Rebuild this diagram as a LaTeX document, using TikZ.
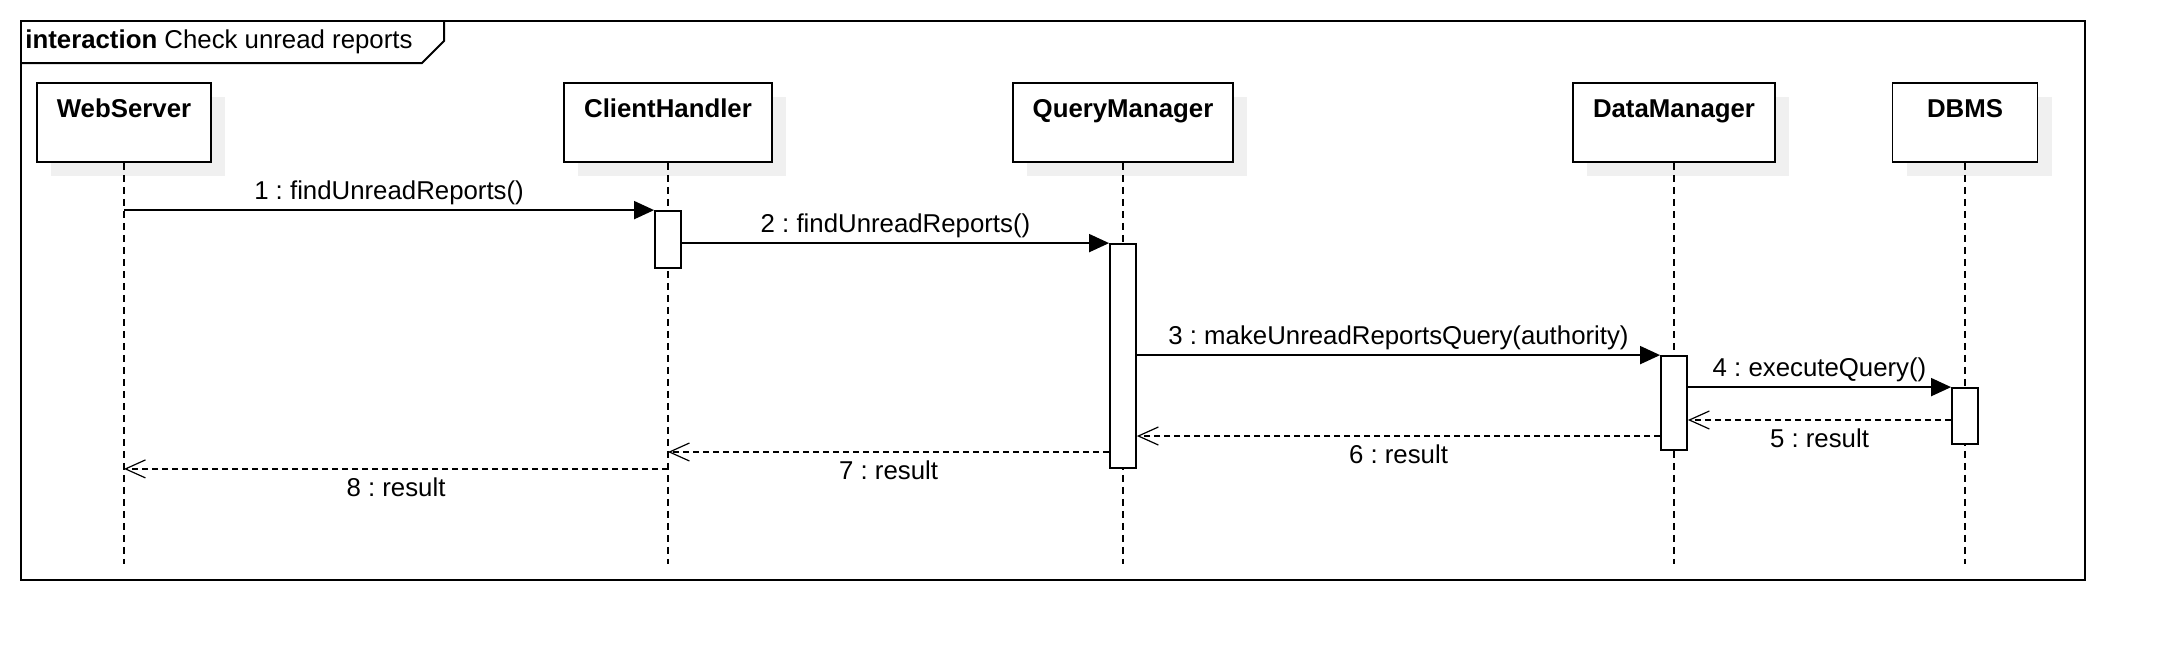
\documentclass[tikz,border=0pt]{standalone}
\usepackage{fontspec}
\setmainfont{Liberation Sans}
\usetikzlibrary{arrows.meta}
\frenchspacing
\begin{document}
\begin{tikzpicture}[x=0.5pt,y=-0.5pt,
 every node/.style={font=\fontsize{12.9pt}{15pt}\selectfont, inner sep=0pt},
 frameline/.style={line width=1pt},
 obj/.style={draw, line width=0.9pt, fill=white, minimum height=39.5pt,
   preaction={fill=black!6, transform canvas={shift={(7pt,-7pt)}}}},
 objlabel/.style={anchor=base, font=\bfseries\fontsize{12.9pt}{15pt}\selectfont},
 lifeline/.style={line width=0.7pt, dash pattern=on 3.5pt off 2.5pt},
 actbar/.style={draw, fill=white, line width=0.9pt, minimum width=13pt},
 msg/.style={line width=0.9pt, -{Triangle[length=10pt,width=9pt]}},
 ret/.style={line width=0.9pt, dash pattern=on 3pt off 2pt, -{Straight Barb[length=10pt,width=9pt,line width=0.6pt]}},
 lblabove/.style={midway, anchor=base, yshift=5.5pt},
 lblbelow/.style={midway, anchor=base, yshift=-13.75pt}]
\useasboundingbox (0,0) rectangle (2164,660);
\fill[white] (0,0) rectangle (2164,660);
% frame
\draw[frameline] (20.5,20.5) rectangle (2085,580);
\draw[frameline] (20.5,63) -- (422,63) -- (444,41) -- (444,20.5);
\node[anchor=base west] (title) at (25,48) {\textbf{interaction} Check unread reports};
% objects
\node[obj, minimum width=87pt] (ws) at (124,122.5) {};
\node[objlabel] (wsl) at ([yshift=-17.5pt]ws.north) {WebServer};
\node[obj, minimum width=104pt] (ch) at (668,122.5) {};
\node[objlabel] (chl) at ([yshift=-17.5pt]ch.north) {ClientHandler};
\node[obj, minimum width=110pt] (qm) at (1123,122.5) {};
\node[objlabel] (qml) at ([yshift=-17.5pt]qm.north) {QueryManager};
\node[obj, minimum width=101pt] (dm) at (1674,122.5) {};
\node[objlabel] (dml) at ([yshift=-17.5pt]dm.north) {DataManager};
\node[obj, minimum width=72.5pt] (db) at (1965,122.5) {};
\node[objlabel] (dbl) at ([yshift=-17.5pt]db.north) {DBMS};
% lifelines
\coordinate (bot) at (0,564);
\draw[lifeline] (ws.south) -- (ws.south |- bot);
\draw[lifeline] (ch.south) -- (ch.south |- bot);
\draw[lifeline] (qm.south) -- (qm.south |- bot);
\draw[lifeline] (dm.south) -- (dm.south |- bot);
\draw[lifeline] (db.south) -- (db.south |- bot);
% activation bars
\node[actbar, minimum height=28.5pt] (a1) at (668,239.5) {};
\node[actbar, minimum height=112pt] (a2) at (1123,356) {};
\node[actbar, minimum height=47pt] (a3) at (1674,403) {};
\node[actbar, minimum height=28pt] (a4) at (1965,416) {};
% messages
\draw[msg] (ws.south |- a1.north) -- node[lblabove] (l1) {1 : findUnreadReports()} (a1.north west);
\draw[msg] (a1.east |- a2.north) -- node[lblabove] (l2) {2 : findUnreadReports()} (a2.north west);
\draw[msg] (a2.east |- a3.north) -- node[lblabove] (l3) {3 : makeUnreadReportsQuery(authority)} (a3.north west);
\draw[msg] (a3.east |- a4.north) -- node[lblabove] (l4) {4 : executeQuery()} (a4.north west);
% returns
\coordinate (y5) at (0,420);
\coordinate (y6) at (0,436);
\coordinate (y7) at (0,452);
\draw[ret] (a4.west |- y5) -- node[lblbelow] (l5) {5 : result} (a3.east |- y5);
\draw[ret] (a3.west |- y6) -- node[lblbelow] (l6) {6 : result} (a2.east |- y6);
\draw[ret] (a2.west |- y7) -- node[lblbelow] (l7) {7 : result} (ch.south |- y7);
\draw[ret] (ch.south |- a2.south) -- node[lblbelow] (l8) {8 : result} (ws.south |- a2.south);
\end{tikzpicture}
\end{document}
